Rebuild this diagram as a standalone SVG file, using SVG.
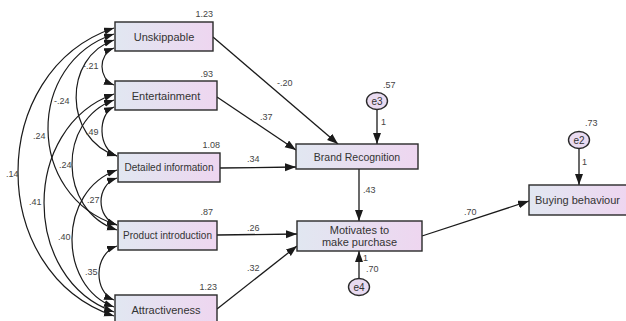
<svg xmlns="http://www.w3.org/2000/svg" width="626" height="321" viewBox="0 0 626 321">
<defs>
<linearGradient id="bx" x1="0" y1="0" x2="1" y2="0">
<stop offset="0" stop-color="#e1e7f1"/>
<stop offset="1" stop-color="#eed6f0"/>
</linearGradient>
<marker id="ah" markerUnits="userSpaceOnUse" markerWidth="12" markerHeight="9" refX="11" refY="4" orient="auto">
<path d="M0,0 L11,4 L0,8 z" fill="#1a1a1a"/>
</marker>
<marker id="ac" markerUnits="userSpaceOnUse" markerWidth="11" markerHeight="8" refX="10" refY="3.5" orient="auto-start-reverse">
<path d="M0,0 L10,3.5 L0,7 z" fill="#1a1a1a"/>
</marker>
</defs>
<style>
.box{fill:url(#bx);stroke:#2a2a2a;stroke-width:1.4}
.err{fill:#e9dbf1;stroke:#2a2a2a;stroke-width:1.4}
.lbl{font-family:"Liberation Sans",Arial,sans-serif;font-size:11px;fill:#333;text-anchor:middle}
.num{font-family:"Liberation Sans",Arial,sans-serif;font-size:9px;fill:#444}
.ln{fill:none;stroke:#1a1a1a;stroke-width:1.3;marker-end:url(#ah)}
.arc{fill:none;stroke:#1a1a1a;stroke-width:1.2;marker-start:url(#ac);marker-end:url(#ac)}
</style>
<rect width="626" height="321" fill="#ffffff"/>

<g id="connectors">
<path class="arc" d="M114,48 C98,54 98,79 114,85"/>
<path class="arc" d="M114,40 C63,57 63,139 117,156"/>
<path class="arc" d="M114,34 C25.5,63 25.5,196 117,225"/>
<path class="arc" d="M114,28 C-14,71 -14,273 114,316"/>
<path class="arc" d="M114,107 C97.5,114 97.5,149 117,156"/>
<path class="arc" d="M114,100 C57.5,120 57.5,210 117,230"/>
<path class="arc" d="M114,94 C20.7,127 20.7,279 114,312"/>
<path class="arc" d="M117,178 C95.7,185 95.7,218 117,225"/>
<path class="arc" d="M117,170 C57.5,191 57.5,286 114,307"/>
<path class="arc" d="M117,246 C93.5,254 93.5,292 114,300"/>
<line class="ln" x1="213" y1="37" x2="338" y2="144"/>
<line class="ln" x1="217" y1="97" x2="296" y2="150"/>
<line class="ln" x1="220" y1="168" x2="296" y2="167"/>
<line class="ln" x1="217" y1="235" x2="297" y2="234"/>
<line class="ln" x1="217" y1="309" x2="297" y2="246"/>
<line class="ln" x1="359" y1="169" x2="359" y2="221"/>
<line class="ln" x1="422" y1="236" x2="529" y2="201"/>
<line class="ln" x1="377" y1="109" x2="377" y2="144"/>
<line class="ln" x1="359" y1="279" x2="359" y2="251"/>
<line class="ln" x1="579" y1="148" x2="579" y2="185"/>
<text class="num" x="83" y="69">-.21</text>
<text class="num" x="54" y="104">-.24</text>
<text class="num" x="33" y="139">.24</text>
<text class="num" x="6" y="177">.14</text>
<text class="num" x="86" y="135">.49</text>
<text class="num" x="59" y="168">.24</text>
<text class="num" x="29" y="205">.41</text>
<text class="num" x="87" y="203">.27</text>
<text class="num" x="58" y="240">.40</text>
<text class="num" x="85" y="275">.35</text>
<text class="num" x="277" y="86">-.20</text>
<text class="num" x="260" y="120">.37</text>
<text class="num" x="247" y="162">.34</text>
<text class="num" x="247" y="231">.26</text>
<text class="num" x="247" y="271">.32</text>
<text class="num" x="363" y="193">.43</text>
<text class="num" x="464" y="215">.70</text>
<text class="num" x="381" y="125">1</text>
<text class="num" x="363" y="261">1</text>
<text class="num" x="582" y="165">1</text>
</g>

<g id="unskippable">
<rect class="box" x="115" y="22" width="98" height="29"/>
<text class="lbl" x="164" y="40.5">Unskippable</text>
<text class="num" x="213" y="17" text-anchor="end">1.23</text>
</g>
<g id="entertainment">
<rect class="box" x="115" y="81" width="102" height="29"/>
<text class="lbl" x="166" y="99.5">Entertainment</text>
<text class="num" x="213" y="77" text-anchor="end">.93</text>
</g>
<g id="detailed-information">
<rect class="box" x="118" y="153" width="102" height="29"/>
<text class="lbl" x="169" y="171" style="font-size:10px">Detailed information</text>
<text class="num" x="220" y="148" text-anchor="end">1.08</text>
</g>
<g id="product-introduction">
<rect class="box" x="118" y="221" width="99" height="29"/>
<text class="lbl" x="167.5" y="239" style="font-size:10px">Product introduction</text>
<text class="num" x="213" y="215" text-anchor="end">.87</text>
</g>
<g id="attractiveness">
<rect class="box" x="115" y="295" width="102" height="29"/>
<text class="lbl" x="166" y="314">Attractiveness</text>
<text class="num" x="217" y="290" text-anchor="end">1.23</text>
</g>
<g id="brand-recognition">
<rect class="box" x="296" y="144" width="122" height="25"/>
<text class="lbl" x="357" y="160.5" style="font-size:10.5px">Brand Recognition</text>
</g>
<g id="motivates">
<rect class="box" x="297" y="221" width="125" height="30"/>
<text class="lbl" x="359.5" y="234">Motivates to</text>
<text class="lbl" x="359.5" y="246">make purchase</text>
</g>
<g id="buying-behaviour">
<rect class="box" x="529" y="185" width="98" height="30"/>
<text class="lbl" x="577.5" y="204">Buying behaviour</text>
</g>
<g id="e3">
<ellipse class="err" cx="377" cy="101" rx="10.5" ry="8.5"/>
<text class="lbl" x="377" y="104.5" style="font-size:10px">e3</text>
<text class="num" x="383" y="88">.57</text>
</g>
<g id="e4">
<ellipse class="err" cx="359" cy="287" rx="10.5" ry="8.5"/>
<text class="lbl" x="359" y="290.5" style="font-size:10px">e4</text>
<text class="num" x="366" y="272">.70</text>
</g>
<g id="e2">
<ellipse class="err" cx="579" cy="140" rx="10.5" ry="8.5"/>
<text class="lbl" x="579" y="143.5" style="font-size:10px">e2</text>
<text class="num" x="585" y="126">.73</text>
</g>
</svg>
